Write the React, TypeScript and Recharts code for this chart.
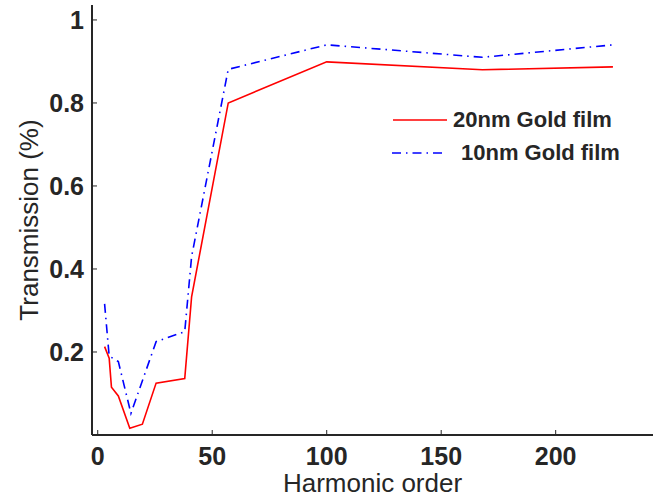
import { LineChart, Line, XAxis, YAxis, Legend } from "recharts";

// harmonic order vs transmission
const gold20X = [3, 5, 6, 9, 14, 19.5, 25.5, 38, 41, 57, 100, 168, 225];
const gold20Y = [0.213, 0.185, 0.115, 0.094, 0.016, 0.026, 0.125, 0.136, 0.333, 0.8, 0.899, 0.88, 0.887];

const gold10X = [3, 5, 9, 14.5, 25.5, 38, 41, 57, 100, 168, 225];
const gold10Y = [0.316, 0.19, 0.177, 0.052, 0.225, 0.249, 0.43, 0.881, 0.94, 0.91, 0.94];

const xTicks = [0, 50, 100, 150, 200];
const yTicks = [0.2, 0.4, 0.6, 0.8, 1];

const gold20 = gold20X.map((x, i) => ({ x, y: gold20Y[i] }));
const gold10 = gold10X.map((x, i) => ({ x, y: gold10Y[i] }));

const FONT = '"Liberation Sans", Arial, Helvetica, sans-serif';
const INK = "#262626";
const DASHDOT = "9 5 1.5 5";

function LegendBox() {
  const row = (color: string, dash: string | undefined, label: string, top: number, x1: number, x2: number, textLeft: number) => (
    <div style={{ position: "absolute", left: 0, top, height: 30, width: 260 }}>
      <svg width={60} height={30} style={{ position: "absolute", left: 0, top: 0 }}>
        <line x1={x1} x2={x2} y1={15} y2={15} stroke={color} strokeWidth={1.6} strokeDasharray={dash} />
      </svg>
      <span
        style={{
          position: "absolute",
          left: textLeft,
          top: 0,
          lineHeight: "30px",
          fontSize: 22,
          fontWeight: 700,
          color: INK,
          whiteSpace: "nowrap",
        }}
      >
        {label}
      </span>
    </div>
  );
  return (
    <div style={{ position: "relative", width: 260, height: 70, fontFamily: FONT }}>
      {row("#ff0000", undefined, "20nm Gold film", 0, 3, 57, 63)}
      {row("#0000ff", DASHDOT, "10nm Gold film", 33, 2, 52, 71)}
    </div>
  );
}

function YLabel(props: any) {
  const vb = props.viewBox || { x: 0, y: 5, width: 92, height: 430 };
  const cx = 38;
  const cy = vb.y + vb.height / 2;
  return (
    <text
      x={cx}
      y={cy}
      transform={`rotate(-90, ${cx}, ${cy})`}
      textAnchor="middle"
      fontSize={26}
      fill={INK}
      fontFamily={FONT}
    >
      Transmission (%)
    </text>
  );
}

export default function App() {
  const tickStyle = { fontSize: 25, fontWeight: 700, fill: INK, fontFamily: FONT };
  const axisLine = { stroke: INK, strokeWidth: 2 };
  const tickLine = { stroke: INK, strokeWidth: 1 };

  return (
    <div style={{ position: "absolute", left: 0, top: 0, background: "#fff" }}>
      <LineChart width={656} height={500} margin={{ top: 5, right: 3, left: 0, bottom: 0 }}>
        <XAxis
          xAxisId="b"
          type="number"
          dataKey="x"
          domain={[-2.5, 242.5]}
          allowDataOverflow
          ticks={xTicks}
          tickSize={-5}
          tickMargin={17}
          tick={tickStyle}
          axisLine={axisLine}
          tickLine={tickLine}
          height={65}
          label={{
            value: "Harmonic order",
            position: "insideBottom",
            offset: 8,
            fontSize: 26,
            fill: INK,
            fontFamily: FONT,
          }}
        />
        <XAxis
          xAxisId="t"
          orientation="top"
          type="number"
          dataKey="x"
          domain={[-2.5, 242.5]}
          allowDataOverflow
          ticks={xTicks}
          tickSize={-5}
          tick={false}
          axisLine={axisLine}
          tickLine={tickLine}
          height={0}
        />
        <YAxis
          yAxisId="l"
          type="number"
          domain={[0, 1.036]}
          allowDataOverflow
          ticks={yTicks}
          tickFormatter={(v: number) => String(v)}
          tickSize={-5}
          tickMargin={13}
          tick={tickStyle}
          axisLine={axisLine}
          tickLine={tickLine}
          width={92}
          label={<YLabel />}
        />
        <YAxis
          yAxisId="r"
          orientation="right"
          type="number"
          domain={[0, 1.036]}
          allowDataOverflow
          ticks={yTicks}
          tickSize={-5}
          tick={false}
          axisLine={axisLine}
          tickLine={tickLine}
          width={0}
        />
        <Legend
          layout="vertical"
          align="center"
          verticalAlign="middle"
          wrapperStyle={{ position: "absolute", left: 390, top: 105, width: 260 }}
          content={() => <LegendBox />}
        />
        <Line
          xAxisId="b"
          yAxisId="l"
          data={gold20}
          dataKey="y"
          stroke="#ff0000"
          strokeWidth={1.6}
          dot={false}
          activeDot={false}
          isAnimationActive={false}
        />
        <Line
          xAxisId="b"
          yAxisId="l"
          data={gold10}
          dataKey="y"
          stroke="#0000ff"
          strokeWidth={1.6}
          strokeDasharray={DASHDOT}
          dot={false}
          activeDot={false}
          isAnimationActive={false}
        />
      </LineChart>
    </div>
  );
}
